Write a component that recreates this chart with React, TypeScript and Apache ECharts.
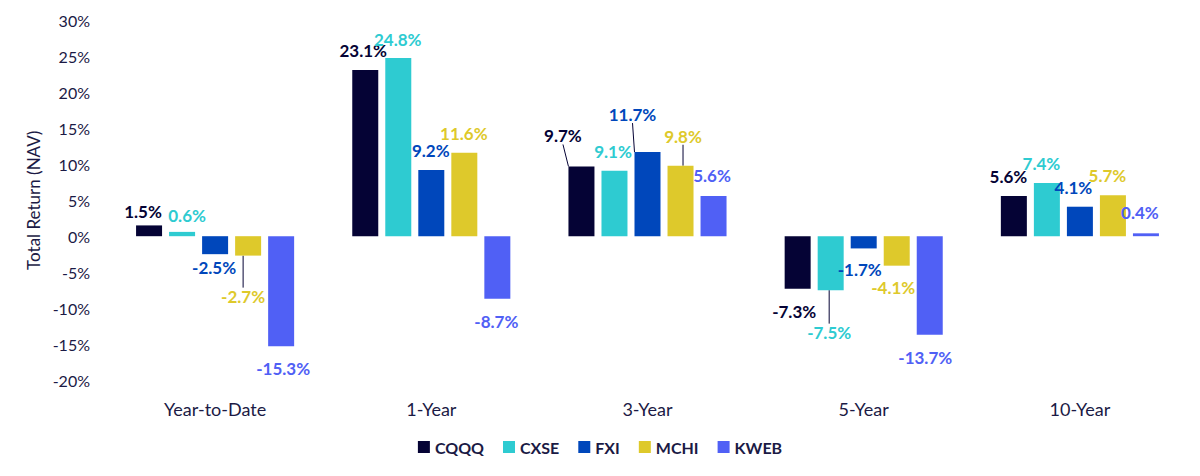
import React, { useEffect, useRef } from "react";
import * as echarts from "echarts";

const categories = ["Year-to-Date", "1-Year", "3-Year", "5-Year", "10-Year"];
const seriesNames = ["CQQQ", "CXSE", "FXI", "MCHI", "KWEB"];
const CQQQ = [1.5, 23.1, 9.7, -7.3, 5.6];
const CXSE = [0.6, 24.8, 9.1, -7.5, 7.4];
const FXI = [-2.5, 9.2, 11.7, -1.7, 4.1];
const MCHI = [-2.7, 11.6, 9.8, -4.1, 5.7];
const KWEB = [-15.3, -8.7, 5.6, -13.7, 0.4];
const seriesValues = [CQQQ, CXSE, FXI, MCHI, KWEB];

const colors = ["#050335", "#2ECBD1", "#0047BB", "#DEC92B", "#5060F5"];
const TEXT = "#1B1A45";
const FONT = "Lato";

// label nudges (layout only)
const labelNudges: number[][][] = [
  [[-6, 0], [-2, -6], [-18.5, -17], [-3.5, 9], [-5.5, -6]],
  [[5, -3], [-0.5, -5], [-1.5, -6], [-1.5, 28.5], [-5.5, -6]],
  [[-1, 0], [-0.5, -6], [-15, -24], [-4, 8], [-6.5, -6]],
  [[-5, 27], [-0.5, -6], [2.5, -16], [-3.5, 8], [-5.5, -6.5]],
  [[2, 9], [-1, 9], [-1.5, -7], [-4.5, 9], [-6, -7.5]],
];
const leaderLines: number[][] = [
  [0, 2],
  [2, 2],
  [3, 2],
  [3, 0],
  [1, 3],
];

export default function App() {
  const ref = useRef<HTMLDivElement>(null);
  useEffect(() => {
    if (!ref.current) return;
    const chart = echarts.init(ref.current, null, { renderer: "svg" });
    const series = seriesNames.map((name, si) => ({
      name,
      type: "bar",
      barWidth: 26,
      barGap: "27%",
      itemStyle: { color: colors[si] },
      data: seriesValues[si].map((v, di) => {
        const hasLine = leaderLines.some((p) => p[0] === si && p[1] === di);
        return {
          value: v,
          labelLine: hasLine
            ? { show: true, lineStyle: { color: "#050335", width: 1 } }
            : { show: false },
        };
      }),
      label: {
        show: true,
        position: "outside",
        distance: 5,
        formatter: (p: any) => `${p.value.toFixed(1)}%`,
        color: colors[si],
        fontFamily: FONT,
        fontWeight: "bold",
        fontSize: 17,
      },
      labelLayout: (p: any) => {
        const n = labelNudges[p.seriesIndex][p.dataIndex];
        return { dx: n[0], dy: n[1] };
      },
    }));
    chart.setOption({
      animation: false,
      textStyle: { fontFamily: FONT },
      legend: {
        bottom: 8,
        left: "center",
        itemWidth: 12,
        itemHeight: 12,
        itemGap: 19,
        itemStyle: {},
        icon: "rect",
        textStyle: { color: TEXT, fontWeight: "bold", fontSize: 16, fontFamily: FONT },
        data: seriesNames,
      },
      grid: { left: 99, right: 4, top: 12.5, bottom: 88 },
      xAxis: {
        type: "category",
        data: categories,
        axisLine: { show: false },
        axisTick: { show: false },
        axisLabel: { color: TEXT, fontSize: 18, margin: 20, fontFamily: FONT },
      },
      yAxis: {
        type: "value",
        min: -20,
        max: 30,
        interval: 5,
        name: "Total Return (NAV)",
        nameLocation: "middle",
        nameGap: 56,
        nameTextStyle: { color: TEXT, fontSize: 17, fontFamily: FONT },
        splitLine: { show: false },
        axisLine: { show: false },
        axisTick: { show: false },
        axisLabel: {
          color: TEXT,
          fontSize: 16,
          margin: 17,
          fontFamily: FONT,
          formatter: (v: number) => `${v}%`,
        },
      },
      series,
    });
    return () => chart.dispose();
  }, []);
  return <div ref={ref} style={{ width: 1184, height: 460 }} />;
}
